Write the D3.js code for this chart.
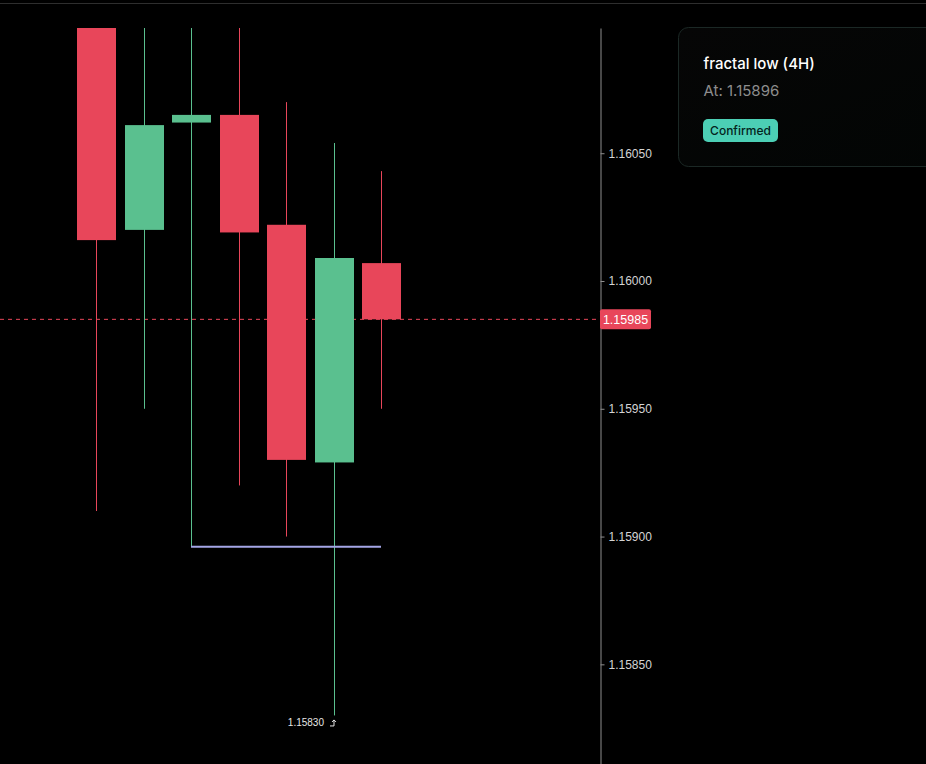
<!DOCTYPE html>
<html lang="en">
<head>
    <meta charset="UTF-8">
    <title>Fractal low (4H)</title>
    <style>
        html, body {
            margin: 0;
            padding: 0;
            background: #000;
            overflow: hidden;
        }
        svg {
            display: block;
        }
        .axis text {
            font-family: "Liberation Sans", Arial, sans-serif;
            font-size: 12px;
            fill: #d4d4d4;
        }
        .axis path, .axis line {
            stroke: #8e8e8e;
        }
    </style>
</head>
<body>
<svg width="926" height="764"></svg>

<script src="https://d3js.org/d3.v7.min.js"></script>
<script>
    // candle data (4H)
    var opens  = [1.16112, 1.16020, 1.16062, 1.16065, 1.16022, 1.15929, 1.16007];
    var highs  = [1.16125, 1.16108, 1.16110, 1.16104, 1.16070, 1.16054, 1.16043];
    var lows   = [1.15910, 1.15950, 1.15896, 1.15920, 1.15900, 1.15830, 1.15950];
    var closes = [1.16016, 1.16061, 1.16065, 1.16019, 1.15930, 1.16009, 1.15985];

    var priceTicks = [1.16050, 1.16000, 1.15950, 1.15900, 1.15850];
    var lastPrice = 1.15985;
    var fractalLow = 1.15896;
    var fractalFrom = 2;   // candle index where the fractal low sits
    var fractalTo = 6;
    var lowestIndex = 5;   // candle carrying the lowest low label

    var upColor = "#5ac08f";
    var downColor = "#e8465a";

    var svg = d3.select("svg"),
        width = +svg.attr("width"),
        height = +svg.attr("height");

    var axisX = 600;
    var plotTop = 28;

    // top separator
    svg.append("line")
        .attr("x1", 0).attr("x2", width)
        .attr("y1", 3.5).attr("y2", 3.5)
        .attr("stroke", "#2e2e2e");

    var candles = opens.map(function (o, i) {
        return { i: i, open: o, high: highs[i], low: lows[i], close: closes[i] };
    });

    var x = d3.scaleLinear()
        .domain([0, candles.length - 1])
        .range([96.5, 381.5]);

    var y = d3.scaleLinear()
        .domain([1.15811, 1.16099])
        .range([height, plotTop]);

    var bodyW = 39;

    svg.append("clipPath").attr("id", "plot")
        .append("rect")
        .attr("x", 0).attr("y", plotTop)
        .attr("width", axisX).attr("height", height - plotTop);

    var plot = svg.append("g").attr("clip-path", "url(#plot)");

    // last price dashed line
    plot.append("line")
        .attr("x1", 0).attr("x2", axisX)
        .attr("y1", y(lastPrice)).attr("y2", y(lastPrice))
        .attr("stroke", downColor)
        .attr("stroke-width", 1)
        .attr("stroke-dasharray", "4,4");

    // wicks
    plot.selectAll(".wick")
        .data(candles)
        .enter().append("line")
        .attr("class", "wick")
        .attr("x1", function (d) { return Math.floor(x(d.i)) + 0.5; })
        .attr("x2", function (d) { return Math.floor(x(d.i)) + 0.5; })
        .attr("y1", function (d) { return y(d.high); })
        .attr("y2", function (d) { return y(d.low); })
        .attr("stroke", function (d) { return d.close >= d.open ? upColor : downColor; })
        .attr("stroke-width", 1);

    // bodies
    plot.selectAll(".body")
        .data(candles)
        .enter().append("rect")
        .attr("class", "body")
        .attr("x", function (d) { return Math.ceil(x(d.i) - bodyW / 2); })
        .attr("width", bodyW)
        .attr("y", function (d) { return y(Math.max(d.open, d.close)); })
        .attr("height", function (d) { return Math.max(1, Math.abs(y(d.open) - y(d.close))); })
        .attr("fill", function (d) { return d.close >= d.open ? upColor : downColor; });

    // fractal low line
    plot.append("line")
        .attr("x1", Math.floor(x(fractalFrom)))
        .attr("x2", Math.floor(x(fractalTo)))
        .attr("y1", y(fractalLow)).attr("y2", y(fractalLow))
        .attr("stroke", "#a4a6e6")
        .attr("stroke-width", 2);

    // lowest low label
    var lowX = Math.floor(x(lowestIndex)), lowY = y(lows[lowestIndex]);
    svg.append("text")
        .attr("x", lowX - 10)
        .attr("y", lowY + 10.5)
        .attr("text-anchor", "end")
        .attr("font-family", "Liberation Sans, Arial, sans-serif")
        .attr("font-size", 10)
        .attr("fill", "#e6e6e6")
        .text(d3.format(".5f")(lows[lowestIndex]));
    svg.append("path")
        .attr("d", "M" + (lowX - 4) + "," + (lowY + 10.5) + "h4v-6 M" + (lowX - 2) + "," + (lowY + 6.5) + "l2,-2l2,2")
        .attr("fill", "none")
        .attr("stroke", "#e6e6e6")
        .attr("stroke-width", 1);

    // price axis
    svg.append("g")
        .attr("class", "axis")
        .attr("transform", "translate(" + (axisX + 0.5) + ",0)")
        .call(d3.axisRight(y)
            .tickValues(priceTicks)
            .tickFormat(d3.format(".5f"))
            .tickSize(4)
            .tickSizeOuter(0)
            .tickPadding(4));

    // last price tag
    var tag = svg.append("g").attr("transform", "translate(" + axisX + "," + y(lastPrice) + ")");
    tag.append("rect")
        .attr("x", 0).attr("y", -10)
        .attr("width", 51).attr("height", 20)
        .attr("rx", 2)
        .attr("fill", downColor);
    tag.append("text")
        .attr("x", 25.5).attr("y", 4.5)
        .attr("text-anchor", "middle")
        .attr("font-family", "Liberation Sans, Arial, sans-serif")
        .attr("font-size", 12.5)
        .attr("fill", "#fff")
        .text(d3.format(".5f")(lastPrice));

    // info card
    var defs = svg.append("defs");
    var grad = defs.append("linearGradient")
        .attr("id", "cardBg")
        .attr("x1", 0).attr("y1", 0).attr("x2", 1).attr("y2", 1);
    grad.append("stop").attr("offset", "0%").attr("stop-color", "#060606");
    grad.append("stop").attr("offset", "100%").attr("stop-color", "#020504");

    var card = svg.append("g").attr("transform", "translate(678.5,27.5)");
    card.append("rect")
        .attr("width", 320).attr("height", 139)
        .attr("rx", 10)
        .attr("fill", "url(#cardBg)")
        .attr("stroke", "#1b2825")
        .attr("stroke-width", 1);
    card.append("text")
        .attr("x", 25).attr("y", 41)
        .attr("font-family", "Inter, sans-serif")
        .attr("font-size", 15)
        .attr("font-weight", 500)
        .attr("fill", "#ffffff")
        .text("fractal low (4H)");
    card.append("text")
        .attr("x", 25).attr("y", 68)
        .attr("font-family", "Inter, sans-serif")
        .attr("font-size", 15)
        .attr("fill", "#8d8d8d")
        .text("At: " + d3.format(".5f")(fractalLow));
    card.append("rect")
        .attr("x", 24.5).attr("y", 91.5)
        .attr("width", 75).attr("height", 23)
        .attr("rx", 5)
        .attr("fill", "#4ccfb5");
    card.append("text")
        .attr("x", 62).attr("y", 107.5)
        .attr("text-anchor", "middle")
        .attr("font-family", "Inter, sans-serif")
        .attr("font-size", 12)
        .attr("font-weight", 500)
        .attr("fill", "#04231c")
        .text("Confirmed");
</script>
</body>
</html>
